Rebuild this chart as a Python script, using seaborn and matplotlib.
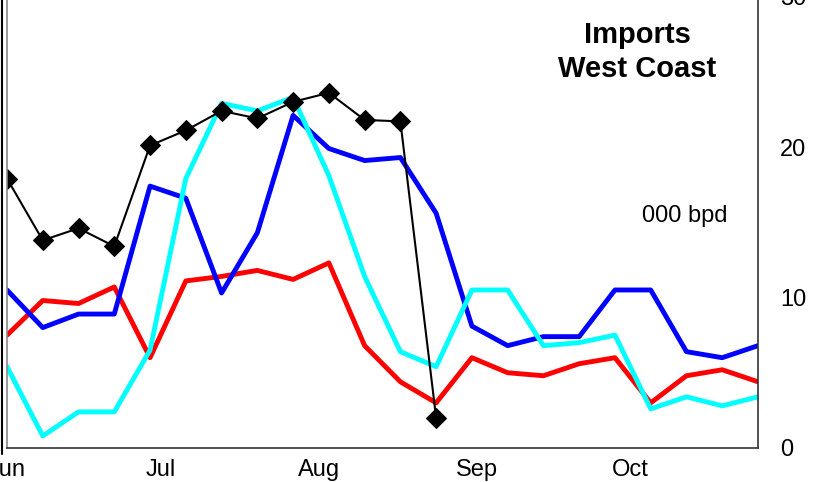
import pandas as pd
import numpy as np
import matplotlib
matplotlib.use("Agg")
import matplotlib.pyplot as plt
from matplotlib.lines import Line2D
import seaborn as sns

# weekly points, Jun to late Oct
weeks = pd.date_range("2000-06-01", periods=22, freq="7D")

# imports, 000 bpd
current = [17.9, 13.8, 14.6, 13.4, 20.1, 21.1, 22.4, 21.9, 23.0, 23.6, 21.8, 21.7, 2.0,
           np.nan, np.nan, np.nan, np.nan, np.nan, np.nan, np.nan, np.nan, np.nan]
blue_series = [10.5, 8.0, 8.9, 8.9, 17.4, 16.6, 10.3, 14.3, 22.1, 19.9, 19.1, 19.3, 15.6,
               8.1, 6.8, 7.4, 7.4, 10.5, 10.5, 6.4, 6.0, 6.8]
red_series = [7.5, 9.8, 9.6, 10.7, 6.0, 11.1, 11.4, 11.8, 11.2, 12.3, 6.8, 4.4, 3.0,
              6.0, 5.0, 4.8, 5.6, 6.0, 3.0, 4.8, 5.2, 4.4]
cyan_series = [5.4, 0.8, 2.4, 2.4, 6.5, 17.9, 22.9, 22.4, 23.3, 18.1, 11.4, 6.4, 5.4,
               10.5, 10.5, 6.8, 7.0, 7.5, 2.6, 3.4, 2.8, 3.4]

month_ticks = pd.to_datetime(["2000-06-01", "2000-07-01", "2000-08-01", "2000-09-01", "2000-10-01"])
month_labels = ["Jun", "Jul", "Aug", "Sep", "Oct"]
y_ticks = [0, 10, 20, 30]

sns.set_style("white")
plt.rcParams["font.family"] = ["Liberation Sans", "DejaVu Sans"]
plt.rcParams["text.color"] = "black"
plt.rcParams["xtick.color"] = "black"
plt.rcParams["ytick.color"] = "black"

fig = plt.figure(figsize=(8.18, 4.82), dpi=100)
ax = fig.add_axes([7 / 818, 34 / 482, 751 / 818, 451.5 / 482])

sns.lineplot(x=weeks, y=red_series, color="#ff0000", linewidth=3.5, ax=ax)
sns.lineplot(x=weeks, y=blue_series, color="#0000ff", linewidth=3.5, ax=ax)
sns.lineplot(x=weeks, y=cyan_series, color="#00ffff", linewidth=3.5, ax=ax)
sns.lineplot(x=weeks, y=current, color="black", linewidth=1.5, marker="D",
             markersize=10, markeredgecolor="black", ax=ax)

ax.set_xlim(weeks[0], weeks[-1])
ax.set_ylim(0, 30)
ax.set_xticks(month_ticks)
ax.set_xticklabels(month_labels)
ax.set_yticks(y_ticks)
ax.yaxis.tick_right()
ax.tick_params(axis="y", length=0, pad=16, labelsize=17)
ax.tick_params(axis="x", length=0, pad=8, labelsize=17)
ax.set_xlabel("")
ax.set_ylabel("")

ax.spines["top"].set_visible(False)
ax.spines["left"].set_color("#888888")
ax.spines["right"].set_color("#333333")
ax.spines["bottom"].set_color("#333333")
for s in ["left", "right", "bottom"]:
    ax.spines[s].set_linewidth(1.2)

ax.text(0.839, 0.877, "Imports\nWest Coast", transform=ax.transAxes, ha="center",
        va="center", fontsize=21, fontweight="bold", linespacing=1.3)
ax.text(0.903, 0.514, "000 bpd", transform=ax.transAxes, ha="center", va="center",
        fontsize=17)

# edge of the neighbouring panel
fig.add_artist(Line2D([2 / 818, 2 / 818], [28 / 482, 1], color="black", linewidth=1.5))

fig.savefig("out.png", dpi=100)
